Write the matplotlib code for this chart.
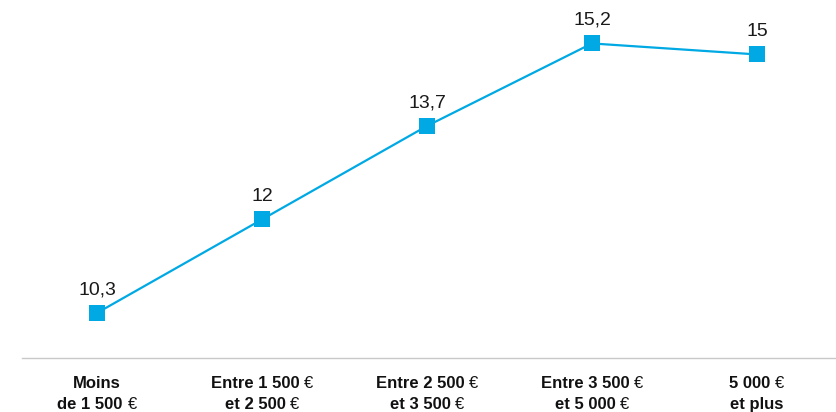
import matplotlib
matplotlib.use("Agg")
import matplotlib.pyplot as plt
import matplotlib.transforms as mtransforms

plt.rcParams["font.family"] = ["Liberation Sans", "DejaVu Sans"]

categories = [
    ("Moins", "de 1 500 €"),
    ("Entre 1 500 €", "et 2 500 €"),
    ("Entre 2 500 €", "et 3 500 €"),
    ("Entre 3 500 €", "et 5 000 €"),
    ("5 000 €", "et plus"),
]
values = [10.3, 12.0, 13.7, 15.2, 15.0]
value_labels = ["10,3", "12", "13,7", "15,2", "15"]

BLUE = "#00a9e3"

fig = plt.figure(figsize=(8.37, 4.12), dpi=100)
ax = fig.add_axes([22 / 837, 1 - 358 / 412, 815 / 837, 358 / 412])
x = list(range(len(values)))
ax.plot(x, values, color=BLUE, linewidth=1.6, marker="s", markersize=11.5,
        markeredgewidth=0, zorder=3)
for xi, v, lab in zip(x, values, value_labels):
    ax.annotate(lab, (xi, v), xytext=(0, 10.5), textcoords="offset points",
                ha="center", va="bottom", fontsize=14, color="#1a1a1a")

ax.set_xlim(-0.455, 4.485)
ax.set_ylim(9.48, 15.99)
for side in ["top", "right", "left"]:
    ax.spines[side].set_visible(False)
ax.spines["bottom"].set_color("#c8c8c8")
ax.spines["bottom"].set_linewidth(1.0)
ax.set_xticks([])
ax.set_yticks([])

# tick labels: bold text with the euro sign in regular weight
fig.canvas.draw()
renderer = fig.canvas.get_renderer()
trans = mtransforms.blended_transform_factory(ax.transData, ax.transAxes)
line_y = [-0.066, -0.127]
fs = 12
for xi, lines in zip(x, categories):
    for ly, line in zip(line_y, lines):
        if line.endswith("€"):
            parts = [(line[:-1], "bold"), ("€", "normal")]
        else:
            parts = [(line, "bold")]
        texts = []
        for s, w in parts:
            t = fig.text(0, 0, s, fontsize=fs, fontweight=w)
            texts.append(t)
        widths = [t.get_window_extent(renderer).width for t in texts]
        total = sum(widths)
        start = -total / 2
        for t in texts:
            t.remove()
        off = start
        for (s, w), wd in zip(parts, widths):
            tr = mtransforms.offset_copy(trans, fig=fig, x=off * 72 / fig.dpi,
                                         y=0, units="points")
            ax.text(xi, ly, s, transform=tr, fontsize=fs, fontweight=w,
                    ha="left", va="center_baseline", color="#111111",
                    clip_on=False)
            off += wd

fig.savefig("out.png", dpi=100)
